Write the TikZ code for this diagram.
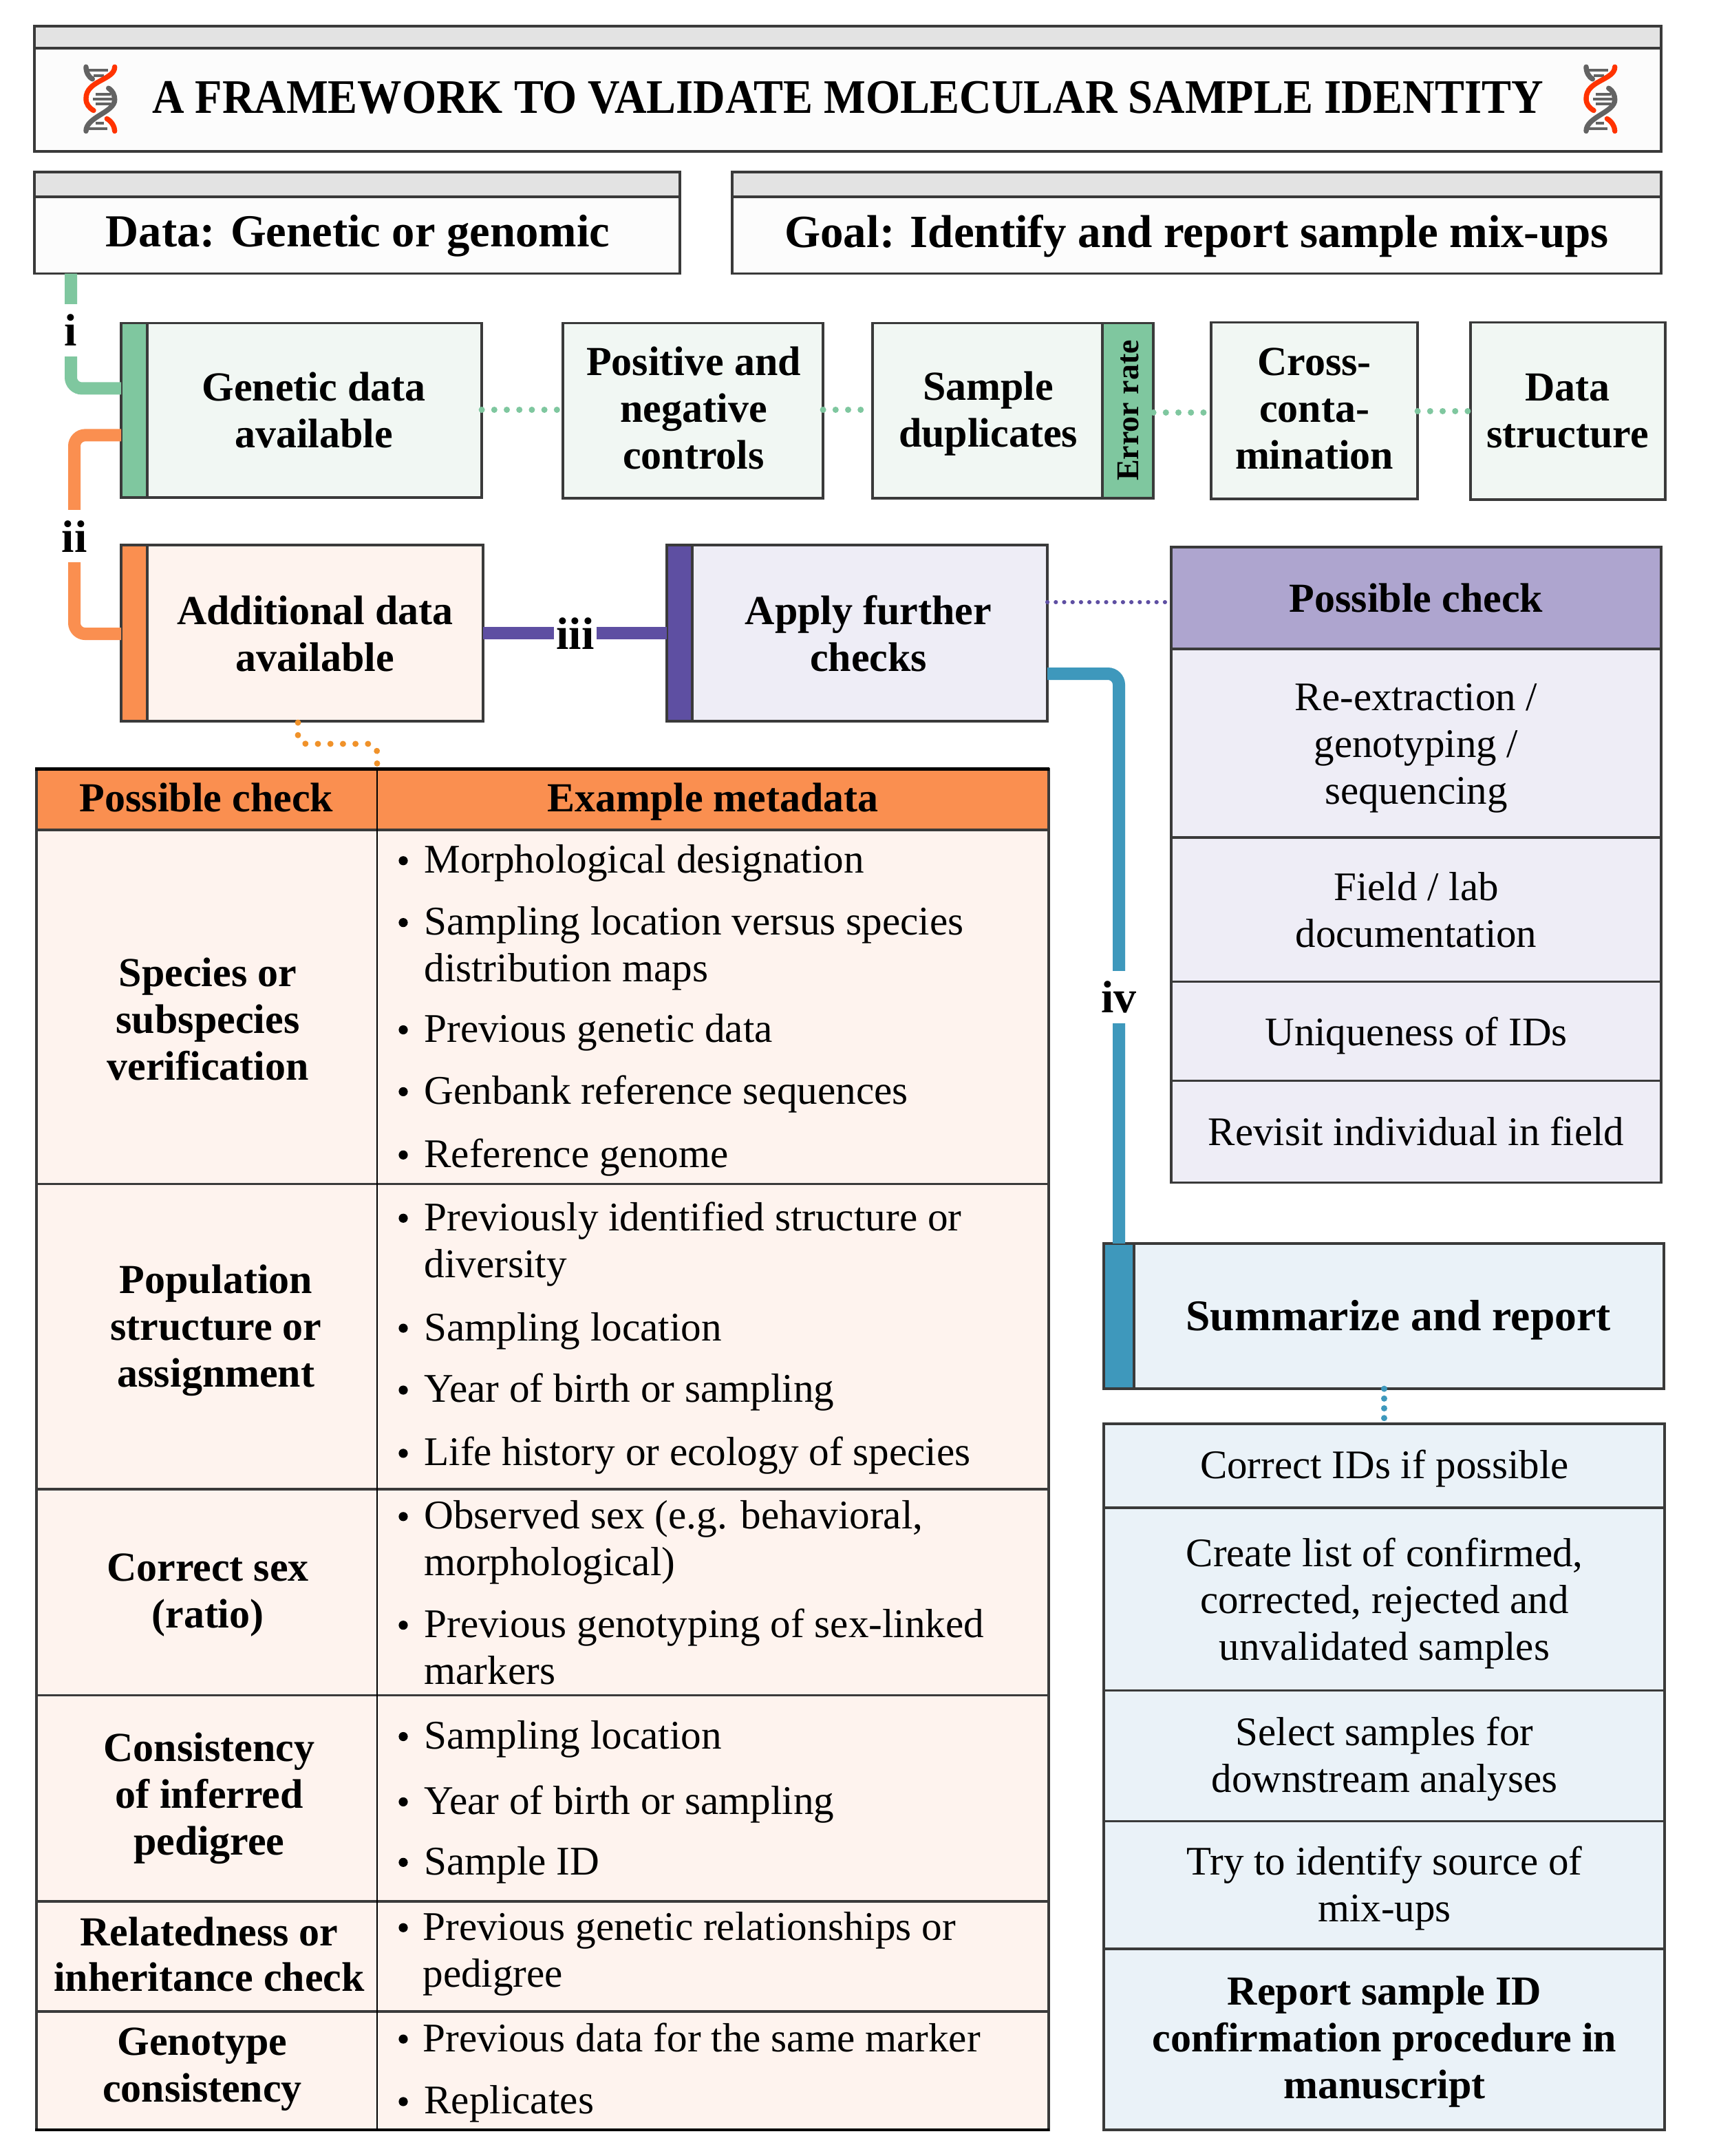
\documentclass[tikz,border=0pt]{standalone}
\usepackage{fontspec}
\setmainfont{Liberation Serif}
\newfontfamily\titlefont[FakeStretch=0.92]{Liberation Serif}
\definecolor{frame}{HTML}{3A3A3A}
\definecolor{band}{HTML}{E3E3E3}
\definecolor{paper}{HTML}{FCFCFC}
\definecolor{grnL}{HTML}{F1F7F3}
\definecolor{grn}{HTML}{7FC79F}
\definecolor{orgL}{HTML}{FEF3EE}
\definecolor{org}{HTML}{FA8F50}
\definecolor{orgdot}{HTML}{F0922A}
\definecolor{purL}{HTML}{EEEDF6}
\definecolor{purM}{HTML}{AEA5CF}
\definecolor{pur}{HTML}{5E4FA2}
\definecolor{bluL}{HTML}{EAF2F8}
\definecolor{blu}{HTML}{3E98BC}
\definecolor{dnag}{HTML}{636363}
\definecolor{dnar}{HTML}{FF3300}
\tikzset{
 tx/.style={font=\fontsize{29.5}{34}\selectfont,align=center,inner sep=0pt,text=black},
 bt/.style={font=\fontsize{30}{34}\bfseries\selectfont,align=center,inner sep=0pt,text=black},
 li/.style={font=\fontsize{29.6}{34}\selectfont,anchor=base west,inner sep=0pt,text=black},
 steplabel/.style={font=\fontsize{33}{34}\bfseries\selectfont,inner sep=0pt,fill=white,text=black},
 thick line/.style={line width=9pt,rounded corners=8pt},
 dots/.style={line width=4.4pt,line cap=round,dash pattern=on 0.1pt off 9pt},
 pics/dna/.style={code={
  \begin{scope}[x=0.1667pt,y=-0.1667pt]
   \draw[dnag,line width=2pt] (-50,-127)--(32,-127) (-30,-102)--(15,-102) (-20,-20)--(45,-20) (-32,0)--(50,0) (-20,20)--(45,20) (-20,105)--(15,105) (-50,128)--(30,128);
   \draw[dnag,line width=3.7pt,line cap=round] (-63,-140) .. controls (-63,-115) and (-50,-95) .. (-35,-87);
   \draw[dnag,line width=3.7pt,line cap=round] (35,-47) .. controls (55,-35) and (62,-15) .. (62,3) .. controls (62,58) and (-63,78) .. (-63,140);
   \draw[dnar,line width=3.7pt,line cap=round] (62,-140) .. controls (62,-82) and (-63,-82) .. (-63,-2) .. controls (-63,23) and (-50,38) .. (-30,50);
   \draw[dnar,line width=3.7pt,line cap=round] (28,86) .. controls (50,98) and (62,123) .. (62,140);
  \end{scope}}}
}
\newcommand\boxn[6]{%
 \pgfmathsetmacro\cxx{(#2+#4)/2}\pgfmathsetmacro\cyy{(#3+#5)/2}\pgfmathsetmacro\ww{#4-#2}\pgfmathsetmacro\hh{(#5-#3)*0.999}%
 \node[draw=frame,line width=1.8pt,#6,minimum width=\ww pt,minimum height=\hh pt,inner sep=0pt,outer sep=0pt] (#1) at (\cxx,\cyy) {};}
\newcommand\bul[3]{\fill (293,#2-9) circle (3.3pt); \node[li] at (#1,#2) {#3};}
\begin{document}
\begin{tikzpicture}[x=1pt,y=-0.999pt]
\useasboundingbox (0,0) rectangle (1242,1568.07);
\fill[white] (0,0) rectangle (1242,1568.07);
% headers
\boxn{titleband}{25}{19}{1207}{35}{fill=band}
\boxn{titlebox}{25}{35}{1207}{110}{fill=paper}
\node[bt,font=\fontsize{35}{40}\titlefont\bfseries\selectfont] (titletxt) at (616,71) {A FRAMEWORK TO VALIDATE MOLECULAR SAMPLE IDENTITY};
\pic at (73,72) {dna};
\pic at (1163,72) {dna};
\boxn{databand}{25}{125}{494}{143}{fill=band}
\boxn{databox}{25}{143}{494}{199}{fill=paper}
\node[bt,font=\fontsize{33.3}{40}\bfseries\selectfont] (datatxt) at (260,171.5) {Data: Genetic or genomic};
\boxn{goalband}{532}{125}{1207}{143}{fill=band}
\boxn{goalbox}{532}{143}{1207}{199}{fill=paper}
\node[bt,font=\fontsize{33.5}{40}\bfseries\selectfont] (goaltxt) at (869.5,171.5) {Goal: Identify and report sample mix-ups};
% green row
\boxn{genetic}{88}{235}{350}{362}{fill=grnL}
\boxn{geneticbar}{88}{235}{107}{362}{fill=grn}
\node[bt] (genetictxt) at (228,298.5) {Genetic data\\available};
\boxn{controls}{409}{235}{598}{362.5}{fill=grnL}
\node[bt] (controlstxt) at (504,297) {Positive and\\negative\\controls};
\boxn{dups}{634}{235}{838}{362.5}{fill=grnL}
\boxn{dupsbar}{801}{235}{838}{362.5}{fill=grn}
\node[bt] (dupstxt) at (718,301) {Sample\\duplicates};
\node[bt,font=\fontsize{23}{24}\bfseries\selectfont,rotate=90] (errtxt) at (820,298.5) {Error rate};
\boxn{cross}{880}{234.5}{1030}{363}{fill=grnL}
\node[bt] (crosstxt) at (955,297.5) {Cross-\\conta-\\mination};
\boxn{struct}{1068.5}{234.5}{1210}{363.5}{fill=grnL}
\node[bt] (structtxt) at (1139,299) {Data\\structure};
% second row
\boxn{addl}{88}{396.5}{351}{524.5}{fill=orgL}
\boxn{addlbar}{88}{396.5}{107}{524.5}{fill=org}
\node[bt] (addltxt) at (229,461) {Additional data\\available};
\boxn{apply}{484.5}{396.5}{761}{524.5}{fill=purL}
\boxn{applybar}{484.5}{396.5}{503}{524.5}{fill=pur}
\node[bt] (applytxt) at (631,461) {Apply further\\checks};
% possible check right
\boxn{rhead}{851}{398}{1207}{472}{fill=purM}
\node[bt] (rheadtxt) at (1029,435) {Possible check};
\boxn{r1}{851}{472}{1207}{609}{fill=purL}
\node[tx] (r1txt) at (1029,544) {Re-extraction /\\genotyping /\\sequencing};
\boxn{r2}{851}{609}{1207}{714}{fill=purL}
\node[tx] (r2txt) at (1029,662) {Field / lab\\documentation};
\boxn{r3}{851}{714}{1207}{786}{fill=purL}
\node[tx] (r3txt) at (1029,753) {Uniqueness of IDs};
\boxn{r4}{851}{786}{1207}{860}{fill=purL}
\node[tx] (r4txt) at (1029,823) {Revisit individual in field};
% summarize
\boxn{summ}{802}{904.5}{1209}{1010}{fill=bluL}
\boxn{summbar}{802}{904.5}{824}{1010}{fill=blu}
\node[bt,font=\fontsize{31.8}{34}\bfseries\selectfont] (summtxt) at (1016,960) {Summarize and report};
\boxn{s1}{802}{1035.5}{1209.5}{1096.5}{fill=bluL}
\node[tx] (s1txt) at (1006,1068) {Correct IDs if possible};
\boxn{s2}{802}{1096.5}{1209.5}{1229.5}{fill=bluL}
\node[tx] (s2txt) at (1006,1166) {Create list of confirmed,\\corrected, rejected and\\unvalidated samples};
\boxn{s3}{802}{1229.5}{1209.5}{1324.5}{fill=bluL}
\node[tx] (s3txt) at (1006,1279.5) {Select samples for\\downstream analyses};
\boxn{s4}{802}{1324.5}{1209.5}{1417.5}{fill=bluL}
\node[tx] (s4txt) at (1006,1373.5) {Try to identify source of\\mix-ups};
\boxn{s5}{802}{1417.5}{1209.5}{1549}{fill=bluL}
\node[bt] (s5txt) at (1006,1485) {Report sample ID\\confirmation procedure in\\manuscript};
% left table
\boxn{thead}{26.5}{559.5}{762}{603.5}{fill=org}
\boxn{trow1}{26.5}{603.5}{762}{861}{fill=orgL}
\boxn{trow2}{26.5}{861}{762}{1083}{fill=orgL}
\boxn{trow3}{26.5}{1083}{762}{1233}{fill=orgL}
\boxn{trow4}{26.5}{1233}{762}{1383}{fill=orgL}
\boxn{trow5}{26.5}{1383}{762}{1463}{fill=orgL}
\boxn{trow6}{26.5}{1463}{762}{1549}{fill=orgL}
\draw[black,line width=1.2pt] (274,559.5) -- (274,1549);
\draw[black,line width=2.4pt] (25.5,559.5) -- (762.5,559.5);
\draw[black,line width=2.4pt] (25.5,1549) -- (762.5,1549);
\node[bt] (h1) at (150,580) {Possible check};
\node[bt] (h2) at (518,583) {Example metadata};
\node[bt] (c1) at (151,741) {Species or\\subspecies\\verification};
\node[bt] (c2) at (157,967.5) {Population\\structure or\\assignment};
\node[bt] (c3) at (151,1160) {Correct sex\\(ratio)};
\node[bt] (c4) at (152,1308) {Consistency\\of inferred\\pedigree};
\node[bt,font=\fontsize{30}{33}\bfseries\selectfont] (c5) at (152,1421.5) {Relatedness or\\inheritance check};
\node[bt] (c6) at (147,1505) {Genotype\\consistency};
\bul{308}{635}{Morphological designation}
\bul{308}{680}{Sampling location versus species}
\node[li] at (308,714) {distribution maps};
\bul{308}{758}{Previous genetic data}
\bul{308}{803}{Genbank reference sequences}
\bul{308}{849}{Reference genome}
\bul{308}{895}{Previously identified structure or}
\node[li] at (308,929) {diversity};
\bul{308}{975}{Sampling location}
\bul{308}{1020}{Year of birth or sampling}
\bul{308}{1066}{Life history or ecology of species}
\bul{308}{1112}{Observed sex (e.g. behavioral,}
\node[li] at (308,1146) {morphological)};
\bul{308}{1191}{Previous genotyping of sex-linked}
\node[li] at (308,1225) {markers};
\bul{308}{1272}{Sampling location}
\bul{308}{1319.5}{Year of birth or sampling}
\bul{308}{1363.5}{Sample ID}
\bul{307}{1411}{Previous genetic relationships or}
\node[li] at (307,1445) {pedigree};
\bul{307}{1492}{Previous data for the same marker}
\bul{308}{1537.5}{Replicates}
% connectors
\coordinate (iA) at (51.5,199);
\coordinate (iB) at (88,282.5);
\draw[grn,thick line] (iA) |- (iB);
\coordinate (iiA) at (88,316.5);
\coordinate (iiC) at (88,461);
\draw[org,line width=9pt,rounded corners=8pt] (iiA) -| (54,390) |- (iiC);
\draw[pur,line width=9pt] (addl.east |- 0,460.5) -- (apply.west |- 0,460.5);
\coordinate (ivB) at (813,904.5);
\draw[blu,thick line] (apply.east |- 0,490) -| (ivB);
\draw[grn,dots] (genetic.east |- 0,298) -- (controls.west |- 0,298);
\draw[grn,dots] (controls.east |- 0,298) -- (dups.west |- 0,298);
\draw[grn,dots] (dups.east |- 0,300) -- (cross.west |- 0,300);
\draw[grn,dots] (cross.east |- 0,299) -- (struct.west |- 0,299);
\coordinate (oA) at (216.5,525.5);
\coordinate (oB) at (274,558);
\draw[orgdot,dots,rounded corners=6pt] (oA) |- (274,541) -- (oB);
\draw[pur,line width=3pt,line cap=round,dash pattern=on 0.1pt off 6pt] (apply.east |- 0,438) -- (rhead.west |- 0,438);
\draw[blu,dots,dash pattern=on 0.1pt off 7pt] (summ.south -| s1.north) -- (s1.north);
\node[steplabel] (li) at (51.5,240) [minimum height=38pt,minimum width=14pt] {i};
\node[steplabel] (lii) at (54,390) [minimum height=38pt,minimum width=20pt] {ii};
\node[steplabel] (liii) at (418,461) [minimum width=31pt,minimum height=20pt] {iii};
\node[steplabel] (liv) at (813,725) [minimum height=38pt,minimum width=30pt] {iv};
\end{tikzpicture}
\end{document}
